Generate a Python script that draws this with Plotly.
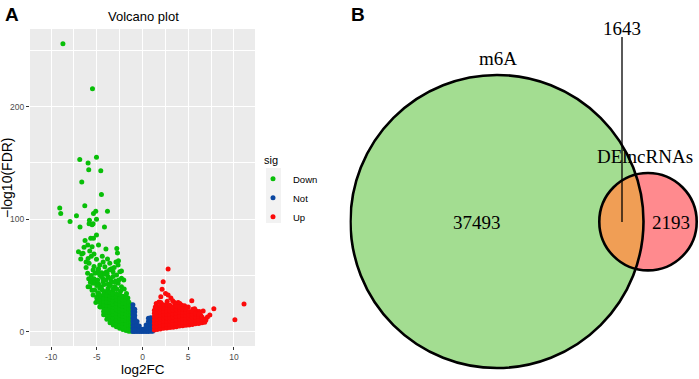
import numpy as np
import plotly.graph_objects as go

# ---------------- Volcano plot data (log2FC, -log10(FDR)) ----------------
down_x = [-8.7, -5.47, -6.86, -5.95, -5.03, -5.88, -4.56, -6.64, -4.49, -6.31, -9.05, -8.94, -7.22,
          -5.36, -5.11, -3.83, -7.92, -5.8, -5.03, -5.51, -6.83, -4.16, -5.84, -5.4, -5.03, -5.66,
          -5.36, -6.28, -5.98, -4.81, -6.39, -5.51, -4.0, -2.81, -7.0, -5.77, -6.64, -5.3, -2.74,
          -6.5, -6.75, -5.03, -3.83, -2.63, -6.17, -5.95, -5.84, -4.67, -4.12, -3.58, -2.67, -6.17,
          -4.81, -3.39, -2.3, -5.4, -4.86, -3.94, -3.22, -2.48, -4.89, -4.45, -3.87, -4.67, -2.84,
          -3.22, -3.76, -2.3, -5.88, -5.3, -4.34, -5.58, -2.95, -2.05, -5.03, -4.31, -3.39, -2.67,
          -5.4, -4.81, -3.76, -5.95, -5.77, -4.49, -3.03, -2.3, -4.67, -3.76, -3.22, -5.22, -5.51,
          -4.89, -4.2, -3.22, -1.75, -3.76, -5.4, -4.31, -4.67, -4.67, -5.1, -5.0, -2.0, -1.6,
          -5.6, -5.2, -4.5, -4.0, -3.5, -3.0, -2.6, -4.2, -3.5, -2.8, -2.4, -5.0, -4.4, -3.9,
          -5.7, -4.9, -4.1, -3.6, -3.1, -4.3, -5.3, -2.9, -5.6, -4.4, -6.0, -4.95, -4.95, -4.8,
          -4.6, -4.6, -4.6, -4.6,
          -4.25, -4.25, -4.25, -4.25, -4.25, -4.25, -4.25,
          -3.9, -3.9, -3.9, -3.9, -3.9, -3.9, -3.9, -3.9,
          -3.55, -3.55, -3.55, -3.55, -3.55, -3.55, -3.55, -3.55, -3.55, -3.55,
          -3.2, -3.2, -3.2, -3.2, -3.2, -3.2, -3.2, -3.2, -3.2, -3.2,
          -2.85, -2.85, -2.85, -2.85, -2.85, -2.85, -2.85, -2.85, -2.85, -2.85, -2.85,
          -2.5, -2.5, -2.5, -2.5, -2.5, -2.5, -2.5, -2.5, -2.5, -2.5, -2.5,
          -2.15, -2.15, -2.15, -2.15, -2.15, -2.15, -2.15, -2.15, -2.15, -2.15, -2.15,
          -1.8, -1.8, -1.8, -1.8, -1.8, -1.8, -1.8, -1.8, -1.8, -1.8, -1.8,
          -1.5, -1.5, -1.5, -1.5, -1.5, -1.5, -1.5, -1.5, -1.5, -1.5,
          -1.25, -1.25, -1.25, -1.25, -1.25, -1.25, -1.25, -1.25, -1.25]
down_y = [256, 216, 153, 150, 155, 144, 143, 133, 122, 112, 110, 105, 103,
          105, 107, 107, 98, 99, 100, 95, 93, 93, 96, 96, 86, 83,
          83, 81, 77, 77, 75, 75.5, 73.5, 74, 71, 71.7, 69, 69, 70,
          69.7, 64.6, 64.3, 64.6, 63, 62, 65, 60.8, 59.3, 57.8, 60.8, 59.3, 57,
          56, 56, 54, 54.8, 54.8, 53.3, 53.3, 53.3, 52.4, 52.4, 52, 50.4, 50.4,
          49, 48.9, 47.5, 47, 47, 47, 46, 45, 46, 44.4, 44.4, 44.4, 43,
          43, 42.4, 42.4, 40, 40, 40, 40, 40, 38.6, 38.6, 37, 37, 36.8,
          34.7, 35.6, 38, 34, 32.6, 32.6, 29.7, 28.2, 22.2, 26, 30, 38, 30,
          50, 52, 49, 46, 47, 44, 46, 42, 41, 38, 36, 41, 37, 36,
          44, 46, 51, 55, 57, 62, 58, 62, 67, 67, 52, 27, 31, 34,
          22, 25.5, 29, 32,
          15, 18, 21, 24, 27, 30, 33,
          11, 14.5, 17.5, 20.5, 23.5, 26.5, 29.5, 32.5,
          8, 11, 14, 17, 20, 23, 26, 29, 32, 35,
          6, 9.5, 12.5, 15.5, 18.5, 21.5, 24.5, 27.5, 30.5, 33.5,
          4.5, 7.5, 10.5, 13.5, 16.5, 19.5, 22.5, 25.5, 28.5, 31.5, 34,
          3, 6, 9, 12, 15, 18, 21, 24, 27, 30, 33,
          2, 4.5, 7.5, 10.5, 13.5, 16.5, 19.5, 22.5, 25.5, 28.5, 31.5,
          1, 4, 7, 10, 13, 16, 19, 22, 25, 28, 31,
          0.5, 2.5, 5.5, 8.5, 11.5, 14.5, 17.5, 20.5, 23.5, 26.5,
          0.3, 3, 6, 9, 12, 15, 18, 21, 24]

not_x = [-1.05, -1.05, -1.05, -1.05, -1.05, -1.05, -1.05, -1.05, -1.05,
         -0.85, -0.85, -0.85, -0.85, -0.85, -0.85, -0.85, -0.85,
         -0.6, -0.6, -0.6, -0.6,
         -0.35, -0.35, -0.35,
         -0.1, -0.1,
         0.15, 0.15,
         0.4, 0.4, 0.4,
         0.65, 0.65, 0.65, 0.65, 0.65,
         0.9, 0.9, 0.9, 0.9, 0.9,
         1.1, 1.1, 1.1, 1.1, 1.1]
not_y = [0.2, 3, 6, 9, 12, 15, 18, 21, 24,
         0.2, 2.5, 5.5, 8.5, 11.5, 14.5, 17.5, 20,
         0.1, 3, 6, 9,
         0.1, 2.5, 5,
         0.1, 2,
         0.1, 2.5,
         0.1, 3, 6,
         0.2, 3, 6, 9, 12,
         0.3, 3.5, 6.5, 9.5, 12.5,
         0.5, 3, 6, 9, 12]

up_x = [2.8, 2.26, 2.14, 2.52, 2.0, 2.8, 3.1, 3.9, 5.39, 5.5, 7.8, 11.1, 10.1, 6.93, 6.35,
        7.36, 6.63, 4.08, 1.5, 3.5, 4.6, 5.9, 7.1, 3.3, 1.8,
        2.0, 2.7, 3.6, 4.3, 5.0, 5.7, 6.2, 1.4,
        1.3, 1.3, 1.3, 1.3, 1.3, 1.3, 1.3,
        1.6, 1.6, 1.6, 1.6, 1.6, 1.6, 1.6, 1.6,
        1.95, 1.95, 1.95, 1.95, 1.95, 1.95, 1.95, 1.95,
        2.3, 2.3, 2.3, 2.3, 2.3, 2.3, 2.3, 2.3,
        2.65, 2.65, 2.65, 2.65, 2.65, 2.65, 2.65, 2.65,
        3.0, 3.0, 3.0, 3.0, 3.0, 3.0, 3.0, 3.0,
        3.35, 3.35, 3.35, 3.35, 3.35, 3.35, 3.35,
        3.7, 3.7, 3.7, 3.7, 3.7, 3.7, 3.7,
        4.05, 4.05, 4.05, 4.05, 4.05, 4.05, 4.05,
        4.4, 4.4, 4.4, 4.4, 4.4, 4.4,
        4.75, 4.75, 4.75, 4.75, 4.75, 4.75,
        5.1, 5.1, 5.1, 5.1, 5.1,
        5.45, 5.45, 5.45, 5.45, 5.45,
        5.8, 5.8, 5.8, 5.8,
        6.15, 6.15, 6.15, 6.15,
        6.5, 6.5, 6.5,
        6.8, 6.8]
up_y = [55.7, 44.4, 37.7, 34, 31, 32.6, 30, 26, 27.6, 20, 20.5, 24.6, 10.7, 10.4, 14.8,
        14.8, 18.4, 25, 25, 26, 23, 18.5, 13, 27.5, 26.5,
        26, 27, 24.5, 23.5, 22, 20.5, 18, 22,
        1.5, 4.5, 7.5, 10.5, 13.5, 16.5, 19,
        2, 5, 8, 11, 14, 17, 20, 22,
        2.5, 5.5, 8.5, 11.5, 14.5, 17.5, 20.5, 23,
        3, 6, 9, 12, 15, 18, 21, 24,
        3.3, 6.5, 9.5, 12.5, 15.5, 18.5, 21.5, 24,
        3.7, 6.5, 9.5, 12.5, 15.5, 18.5, 21.5, 23.5,
        4, 7, 10, 13, 16, 19, 22,
        4.5, 7.5, 10.5, 13.5, 16.5, 19.5, 22.5,
        5, 8, 11, 14, 17, 20, 22,
        5.3, 8.5, 11.5, 14.5, 17.5, 20.5,
        5.7, 8.5, 11.5, 14.5, 17.5, 20,
        6, 9, 12, 15, 18,
        6.5, 9.5, 12.5, 15.5, 18,
        7, 10, 13, 16,
        7.3, 10.5, 13.5, 15.5,
        8, 11, 13,
        8.5, 11]

sig_labels = ["Down", "Not", "Up"]
x_ticks = [-10, -5, 0, 5, 10]
x_tick_labels = ["-10", "-5", "0", "5", "10"]
y_ticks = [0, 100, 200]
y_tick_labels = ["0", "100", "200"]

# ---------------- Venn data ----------------
venn_names = ["m6A", "DElncRNAs"]
venn_only_m6a = 37493
venn_overlap = 1643
venn_only_de = 2193

# ---------------- styling / geometry ----------------
W, H = 699, 379
COL = {"Down": "#08bf08", "Not": "#0a46a0", "Up": "#fb0a0a"}
PANEL_BG = "#ebebeb"
SANS = "Liberation Sans, Arial, sans-serif"
SERIF = "Liberation Serif, Times New Roman, serif"

def px2paper_x(px):
    return px / W

def px2paper_y(py):
    return 1 - py / H

fig = go.Figure()
for name, xs, ys in zip(sig_labels, [down_x, not_x, up_x], [down_y, not_y, up_y]):
    fig.add_trace(go.Scatter(x=xs, y=ys, mode="markers", name=name,
                             marker=dict(color=COL[name], size=5, line=dict(width=0)),
                             xaxis="x", yaxis="y", hoverinfo="skip"))

# invisible trace to create the Venn axes
fig.add_trace(go.Scatter(x=[], y=[], xaxis="x2", yaxis="y2", showlegend=False))

axis_common = dict(showgrid=True, gridcolor="white", gridwidth=1.1, zeroline=False, automargin=False,
                   showline=False, ticks="outside", ticklen=3, tickwidth=1, tickcolor="#333333",
                   tickfont=dict(family=SANS, size=8.5, color="#4d4d4d"))
fig.update_layout(
    width=W, height=H, margin=dict(l=0, r=0, t=0, b=0, autoexpand=False),
    paper_bgcolor="white", plot_bgcolor="rgba(0,0,0,0)",
    xaxis=dict(domain=[px2paper_x(30), px2paper_x(255)], range=[-12.3, 12.3],
               tickvals=x_ticks, ticktext=x_tick_labels, anchor="y",
               minor=dict(showgrid=True, gridcolor="white", gridwidth=0.5, dtick=2.5, tick0=0, ticks=""),
               **axis_common),
    yaxis=dict(domain=[1 - 346 / H, 1 - 29 / H], range=[-12.7, 269],
               tickvals=y_ticks, ticktext=y_tick_labels, anchor="x",
               minor=dict(showgrid=True, gridcolor="white", gridwidth=0.5, dtick=50, tick0=0, ticks=""),
               **axis_common),
    xaxis2=dict(domain=[349.5 / W, 1], range=[349.5, 699], visible=False, anchor="y2", automargin=False),
    yaxis2=dict(domain=[0, 1], range=[379, 0], visible=False, anchor="x2", automargin=False),
    showlegend=True,
    legend=dict(x=px2paper_x(262), y=px2paper_y(150), xanchor="left", yanchor="top",
                bgcolor="rgba(0,0,0,0)", indentation=-9,
                title=dict(text="sig", font=dict(family=SANS, size=11, color="black")),
                font=dict(family=SANS, size=9.5, color="black"), tracegroupgap=0),
)

shapes = []
# panel background (below grid)
shapes.append(dict(type="rect", xref="x domain", yref="y domain", x0=0, x1=1, y0=0, y1=1,
                   fillcolor=PANEL_BG, line=dict(width=0), layer="below"))
# legend key background
shapes.append(dict(type="rect", xref="paper", yref="paper",
                   x0=px2paper_x(266), x1=px2paper_x(281), y0=px2paper_y(223), y1=px2paper_y(168),
                   fillcolor="#f2f2f2", line=dict(width=0), layer="below"))

# Venn geometry (pixel units on x2/y2)
big_c, big_r = np.array([497.0, 221.5]), 146.5
small_c, small_r = np.array([648.0, 221.7]), 48.7
GREEN, PINK, ORANGE = "#a3dd91", "#ff8a8e", "#f09e55"

shapes.append(dict(type="circle", xref="x2", yref="y2",
                   x0=big_c[0] - big_r, x1=big_c[0] + big_r, y0=big_c[1] - big_r, y1=big_c[1] + big_r,
                   fillcolor=GREEN, line=dict(width=0), layer="above"))
shapes.append(dict(type="circle", xref="x2", yref="y2",
                   x0=small_c[0] - small_r, x1=small_c[0] + small_r, y0=small_c[1] - small_r, y1=small_c[1] + small_r,
                   fillcolor=PINK, line=dict(width=0), layer="above"))
# lens (intersection)
t = np.linspace(0, 2 * np.pi, 1441)
bp = np.stack([big_c[0] + big_r * np.cos(t), big_c[1] + big_r * np.sin(t)], axis=1)
sp = np.stack([small_c[0] + small_r * np.cos(t), small_c[1] + small_r * np.sin(t)], axis=1)
bp = bp[np.hypot(bp[:, 0] - small_c[0], bp[:, 1] - small_c[1]) <= small_r]
sp = sp[np.hypot(sp[:, 0] - big_c[0], sp[:, 1] - big_c[1]) <= big_r]
pts = np.concatenate([bp, sp])
cen = pts.mean(axis=0)
pts = pts[np.argsort(np.arctan2(pts[:, 1] - cen[1], pts[:, 0] - cen[0]))]
path = "M " + " L ".join(f"{p[0]:.2f},{p[1]:.2f}" for p in pts) + " Z"
shapes.append(dict(type="path", xref="x2", yref="y2", path=path, fillcolor=ORANGE,
                   line=dict(width=0), layer="above"))
# outlines
for c, r in [(big_c, big_r), (small_c, small_r)]:
    shapes.append(dict(type="circle", xref="x2", yref="y2",
                       x0=c[0] - r, x1=c[0] + r, y0=c[1] - r, y1=c[1] + r,
                       fillcolor="rgba(0,0,0,0)", line=dict(color="black", width=2.6), layer="above"))
# leader line for overlap label
lens_x = 622
shapes.append(dict(type="line", xref="x2", yref="y2", x0=lens_x, x1=lens_x, y0=37, y1=222,
                   line=dict(color="black", width=1.3), layer="above"))
fig.update_layout(shapes=shapes)

ann = []
# panel labels
ann.append(dict(text="<b>A</b>", x=px2paper_x(3), y=px2paper_y(2), xref="paper", yref="paper",
                xanchor="left", yanchor="top", showarrow=False,
                font=dict(family=SANS, size=19, color="black")))
ann.append(dict(text="<b>B</b>", x=px2paper_x(349), y=px2paper_y(2), xref="paper", yref="paper",
                xanchor="left", yanchor="top", showarrow=False,
                font=dict(family=SANS, size=19, color="black")))
# volcano titles
ann.append(dict(text="Volcano plot", x=px2paper_x(143), y=px2paper_y(16), xref="paper", yref="paper",
                xanchor="center", yanchor="middle", showarrow=False,
                font=dict(family=SANS, size=13, color="black")))
ann.append(dict(text="log2FC", x=px2paper_x(143), y=px2paper_y(369), xref="paper", yref="paper",
                xanchor="center", yanchor="middle", showarrow=False,
                font=dict(family=SANS, size=13.5, color="black")))
ann.append(dict(text="\u2212log10(FDR)", x=px2paper_x(7), y=px2paper_y(178), xref="paper", yref="paper",
                xanchor="center", yanchor="middle", showarrow=False, textangle=-90,
                font=dict(family=SANS, size=14, color="black")))
# venn labels
venn_font = dict(family=SERIF, size=19, color="black")
for txt, x, y in [(venn_names[0], 498, 58), (venn_names[1], 645, 156),
                  (f"{venn_overlap}", 622, 28), (f"{venn_only_m6a}", 477, 222),
                  (f"{venn_only_de}", 671, 222)]:
    ann.append(dict(text=txt, x=x, y=y, xref="x2", yref="y2", xanchor="center", yanchor="middle",
                    showarrow=False, font=venn_font))
fig.update_layout(annotations=ann)

fig.write_html("out.html", config={"displayModeBar": False},
               post_script="document.body.style.margin='0px';document.body.style.overflow='hidden';")
